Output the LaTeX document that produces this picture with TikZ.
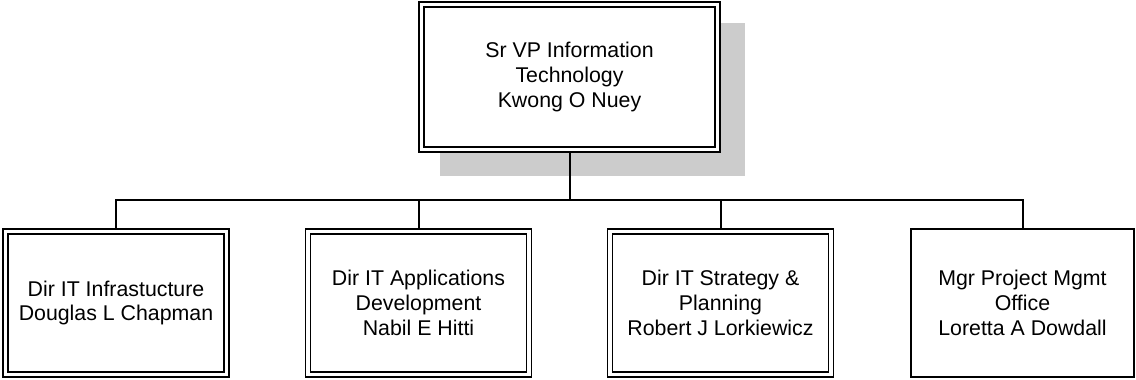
\documentclass[tikz,border=0pt]{standalone}
\usepackage{fontspec}
\setmainfont{Liberation Sans}
\usetikzlibrary{calc,backgrounds}
\newcommand{\orgfont}{\fontsize{16}{18.6}\selectfont}
\tikzset{every picture/.style={line width=1.5pt}}
\tikzset{
  orgbox/.style={draw, fill=white, align=center, font=\orgfont, inner sep=0pt},
  dblbox/.style={orgbox, double, double distance=2.6pt, line width=1.3pt, outer sep=2.6pt,
    minimum width=165.75pt, minimum height=107.25pt},
  topbox/.style={dblbox, minimum width=222pt, minimum height=108.75pt},
  plainbox/.style={orgbox, line width=1.5pt, minimum width=167.3pt, minimum height=111pt},
  link/.style={draw, line width=1.5pt}
}

\begin{document}
\begin{tikzpicture}[x=0.75pt,y=0.75pt,yscale=-1,xscale=1]
\useasboundingbox (0,0) rectangle (1136,379);

% Text Node
\node [topbox] (vp) at (569.5,77) {Sr VP Information\\Technology\\Kwong O Nuey};
%Shape: Shadow
\begin{scope}[on background layer]
\fill [gray!40] ($(vp.north west)+(22,22)$) rectangle ($(vp.south east)+(24,23)$);
\end{scope}

% Text Node
\node [dblbox] (infra) at (116,303) {Dir IT Infrastucture\\Douglas L Chapman};
% Text Node
\node [dblbox] (apps) at (418.5,303) {Dir IT Applications\\Development\\Nabil E Hitti};
% Text Node
\node [dblbox] (strat) at (720.5,303) {Dir IT Strategy \&\\Planning\\Robert J Lorkiewicz};
% Text Node
\node [plainbox] (pmo) at (1022.5,303) {Mgr Project Mgmt\\Office\\Loretta A Dowdall};

%Straight Lines
\coordinate (bus) at (569.5,200);
\draw [link] (vp.south) -- (bus);
\foreach \n in {infra,apps,strat,pmo}
  \draw [link] (bus) -| (\n.north);

\end{tikzpicture}
\end{document}
